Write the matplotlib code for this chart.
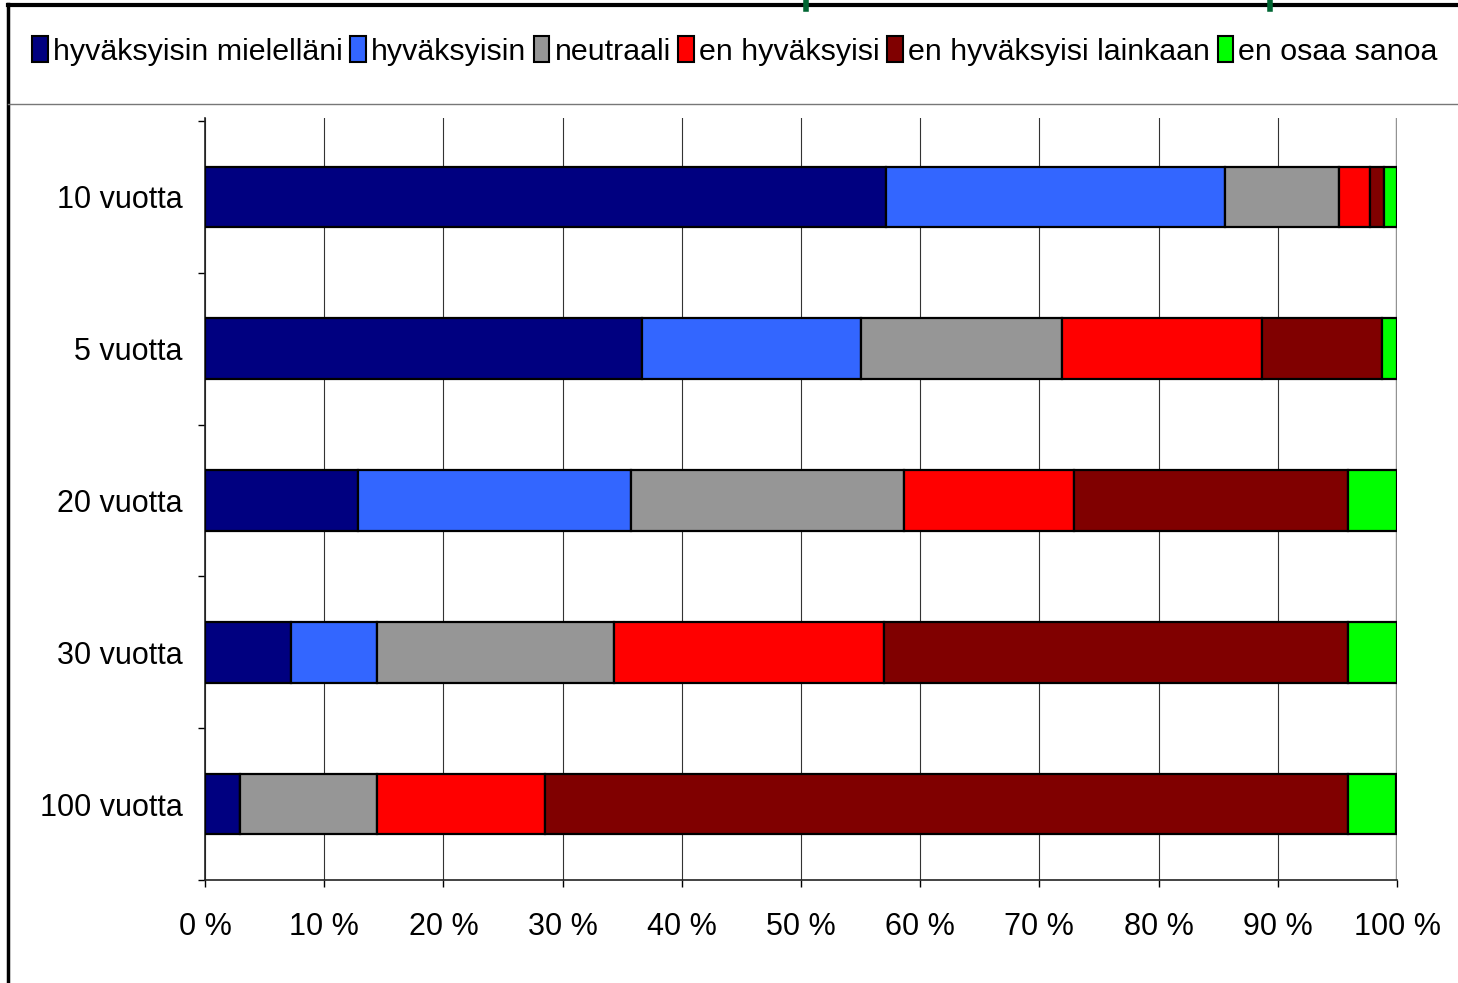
import numpy as np
import matplotlib.pyplot as plt
from matplotlib.lines import Line2D
from matplotlib.patches import Patch

# data (percent of answers)
categories = ['10 vuotta', '5 vuotta', '20 vuotta', '30 vuotta', '100 vuotta']
series = ['hyväksyisin mielelläni', 'hyväksyisin', 'neutraali',
          'en hyväksyisi', 'en hyväksyisi lainkaan', 'en osaa sanoa']
hyv_mielella = [57.1, 36.7, 12.8, 7.2, 2.9]
hyv = [28.5, 18.3, 22.9, 7.2, 0.0]
neutraali = [9.5, 16.9, 22.9, 19.9, 11.5]
en_hyv = [2.6, 16.8, 14.3, 22.7, 14.1]
en_hyv_lainkaan = [1.2, 10.0, 23.0, 38.9, 67.4]
en_osaa = [1.1, 1.3, 4.1, 4.1, 4.0]
colors = ['#000080', '#3366FF', '#969696', '#FF0000', '#800000', '#00FF00']
xticks = [0, 10, 20, 30, 40, 50, 60, 70, 80, 90, 100]

plt.rcParams['font.family'] = ['Liberation Sans', 'DejaVu Sans']

W, H = 1458, 983
fig = plt.figure(figsize=(W / 100, H / 100), dpi=100)
ax = fig.add_axes([205 / W, 1 - 880 / H, (1397 - 205) / W, (880 - 118) / H])

data = np.array([hyv_mielella, hyv, neutraali, en_hyv, en_hyv_lainkaan, en_osaa])
ypos = np.arange(len(categories))
left = np.zeros(len(categories))
for vals, col, name in zip(data, colors, series):
    ax.barh(ypos, vals, left=left, height=0.4, color=col, edgecolor='black',
            linewidth=1.6, label=name, zorder=3)
    left += vals

ax.set_xlim(0, 100)
ax.set_ylim(len(categories) - 0.5 - 0.02, -0.5 - 0.02)
ax.set_xticks(xticks)
ax.set_xticklabels([f'{t} %' for t in xticks], fontsize=22)
ax.set_yticks(ypos)
ax.set_yticklabels(categories, fontsize=22)
ax.set_yticks(np.arange(-0.5, len(categories), 1), minor=True)
ax.tick_params(axis='y', which='major', length=0, pad=16)
ax.tick_params(axis='y', which='minor', length=5, width=1, direction='out')
ax.tick_params(axis='x', length=5, width=1, direction='out', pad=18)
ax.grid(axis='x', color='#333333', linewidth=0.8, zorder=0)
ax.axvline(100, color='#999999', linewidth=2.5, zorder=1)
for s in ['top', 'right']:
    ax.spines[s].set_visible(False)
for s in ['left', 'bottom']:
    ax.spines[s].set_linewidth(1.2)
    ax.spines[s].set_color('#222222')

handles = [Patch(facecolor=c, edgecolor='black', linewidth=1.5) for c in colors]
fig.legend(handles, series, loc='center', bbox_to_anchor=(0.5 + 6 / W, 1 - 51 / H),
           ncol=6, frameon=False, prop={'size': 21.9},
           handlelength=0.5, handleheight=0.9, handletextpad=0.18,
           columnspacing=0.25, borderaxespad=0)

# outer frame and legend separator
fig.add_artist(Line2D([8 / W, 8 / W], [0, 1 - 4 / H], color='black', linewidth=2.5))
fig.add_artist(Line2D([8 / W, 1], [1 - 5 / H, 1 - 5 / H], color='black', linewidth=3))
fig.add_artist(Line2D([8 / W, 1], [1 - 104 / H, 1 - 104 / H], color='#777777', linewidth=1))
for gx in [806, 1270]:
    fig.add_artist(Line2D([gx / W, gx / W], [1 - 9 / H, 1], color='#006633', linewidth=4))

fig.savefig('out.png', dpi=100)
